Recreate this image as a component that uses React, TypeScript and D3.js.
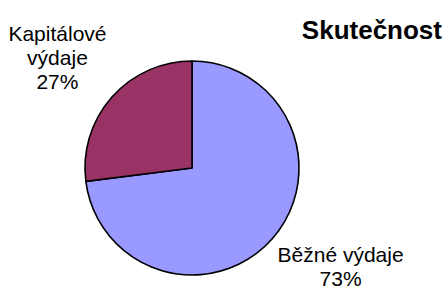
import React, { useEffect, useRef } from 'react';
import * as d3 from 'd3';

const categories = ['Běžné výdaje', 'Kapitálové výdaje'];
const values = [73, 27];
const labelLines = [['Běžné výdaje', '73%'], ['Kapitálové', 'výdaje', '27%']];
const colors = ['#9999FF', '#993366'];
const title = 'Skutečnost';

const width = 448;
const height = 289;

const App: React.FC = () => {
  const svgRef = useRef<SVGSVGElement | null>(null);

  useEffect(() => {
    const svg = d3.select(svgRef.current);
    svg.selectAll('*').remove();

    const cx = 192;
    const cy = 168;
    const r = 107;
    const labelGap = 7;
    const lineH = 24;

    const data = categories.map((c, i) => ({ name: c, value: values[i], color: colors[i], lines: labelLines[i] }));

    const pie = d3.pie<typeof data[number]>()
      .value(d => d.value)
      .sort(null);
    const arcs = pie(data);

    const arc = d3.arc<d3.PieArcDatum<typeof data[number]>>()
      .innerRadius(0)
      .outerRadius(r);

    const g = svg.append('g').attr('transform', `translate(${cx},${cy})`);

    g.selectAll('path')
      .data(arcs)
      .join('path')
      .attr('d', arc)
      .attr('fill', d => d.data.color)
      .attr('stroke', '#000')
      .attr('stroke-width', 1.6)
      .attr('stroke-linejoin', 'round');

    // labels sit outside the slice, box corner touching the anchor point
    arcs.forEach(a => {
      const mid = (a.startAngle + a.endAngle) / 2;
      const ax = (r + labelGap) * Math.sin(mid);
      const ay = -(r + labelGap) * Math.cos(mid);
      const t = g.append('text')
        .attr('font-family', '"Liberation Sans", Arial, sans-serif')
        .attr('font-size', 21)
        .attr('fill', '#000')
        .attr('text-anchor', 'middle');
      a.data.lines.forEach((line, i) => {
        t.append('tspan').attr('x', 0).attr('y', i * lineH).text(line);
      });
      const bb = (t.node() as SVGTextElement).getBBox();
      const bx = ax + Math.sign(ax) * bb.width / 2;
      const by = ay + Math.sign(ay) * bb.height / 2;
      t.attr('transform', `translate(${bx},${by - (bb.y + bb.height / 2)})`);
    });

    svg.append('text')
      .attr('x', 442)
      .attr('y', 39)
      .attr('text-anchor', 'end')
      .attr('font-family', '"Liberation Sans", Arial, sans-serif')
      .attr('font-size', 26)
      .attr('font-weight', 'bold')
      .text(title);
  }, []);

  return (
    <svg
      ref={svgRef}
      width={width}
      height={height}
      style={{ position: 'absolute', left: 0, top: 0, background: '#fff' }}
    />
  );
};

export default App;
